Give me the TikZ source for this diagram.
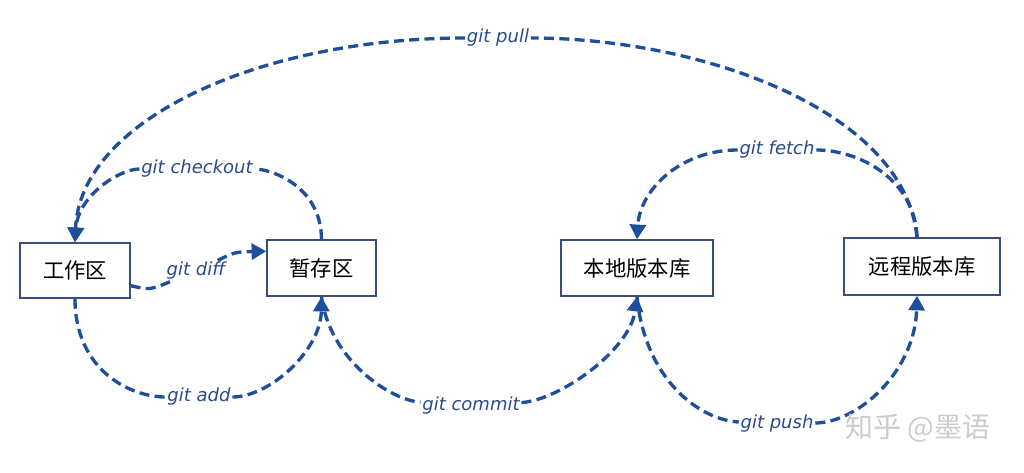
\documentclass[tikz,border=0pt]{standalone}
\usepackage{fontspec}
\usetikzlibrary{arrows.meta,calc}
\newfontfamily\cjk{Noto Sans CJK SC}
\newfontfamily\labfont{DejaVu Sans}
\definecolor{linecol}{HTML}{1F4E9B}
\definecolor{boxcol}{HTML}{3B4C7E}
\definecolor{labcol}{HTML}{2B4A8C}
\begin{document}
\begin{tikzpicture}[x=0.75pt,y=-0.75pt,
  box/.style={draw=boxcol, line width=1.1pt, fill=white, inner sep=0pt,
    font=\cjk\fontsize{16}{19}\selectfont},
  lab/.style={font=\labfont\itshape\fontsize{13.5}{16}\selectfont, text=labcol,
    fill=white, inner sep=1.2pt},
  conn/.style={draw=linecol, line width=2.5pt, dash pattern=on 7.5pt off 4pt,
    -{Triangle[width=12pt,length=11pt]}}]
\useasboundingbox (0,0) rectangle (1024,473);

\node[box, minimum width=82.5pt, minimum height=41.25pt] (wk) at (75,270.5) {工作区};
\node[box, minimum width=81.75pt, minimum height=42pt] (stage) at (321.5,268) {暂存区};
\node[box, minimum width=114pt, minimum height=42pt] (loc) at (637,268) {本地版本库};
\node[box, minimum width=117pt, minimum height=42.75pt] (rem) at (922,266.5) {远程版本库};

\coordinate (remtop) at ($(rem.north)+(-5,0)$);
\coordinate (rembot) at ($(rem.south)+(-5,0)$);
\coordinate (diffs) at ($(wk.south east)+(0,-13)$);
\coordinate (diffe) at ($(stage.north west)+(0,12)$);

\node[lab] (lpull) at (498,38) {git pull};
\node[lab] (lcheck) at (197,169) {git checkout};
\node[lab] (lfetch) at (777,150) {git fetch};
\node[lab] (ldiff) at (196,271) {git diff};
\node[lab] (ladd) at (199,397) {git add};
\node[lab] (lcommit) at (471,406) {git commit};
\node[lab] (lpush) at (777,424) {git push};

\draw[conn] (remtop) .. controls (905,110) and (700,38) .. (lpull)
  .. controls (260,38) and (80,120) .. (wk.north);
\draw[conn] (stage.north) .. controls (321,185) and (270,169) .. (lcheck)
  .. controls (120,169) and (78,195) .. (wk.north);
\draw[conn] (remtop) .. controls (915,180) and (860,150) .. (lfetch)
  .. controls (680,150) and (640,190) .. (loc.north);
\draw[conn] (diffs) .. controls (150,290) .. (ldiff)
  .. controls (235,252) .. (diffe);
\draw[conn] (wk.south) .. controls (75,370) and (130,397) .. (ladd)
  .. controls (270,397) and (321,350) .. (stage.south);
\draw[conn] (stage.south) .. controls (330,360) and (390,400) .. (lcommit)
  .. controls (560,400) and (630,350) .. (loc.south);
\draw[conn] (loc.south) .. controls (645,380) and (700,420) .. (lpush)
  .. controls (860,422) and (915,370) .. (rembot);

\node[font=\cjk\fontsize{21}{24}\selectfont, text=gray!40] (wm) at (918,428) {知乎 @墨语};
\end{tikzpicture}
\end{document}
